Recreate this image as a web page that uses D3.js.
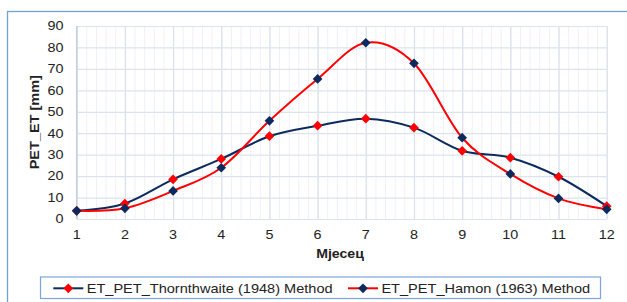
<!DOCTYPE html>
<html>
<head>
<meta charset="utf-8">
<script src="https://cdn.jsdelivr.net/npm/d3@7"></script>
<style>
  body { margin: 0; background: #fff; }
  svg { display: block; font-family: "Liberation Sans", Arial, sans-serif; }
</style>
</head>
<body>
<div class="svg-container"></div>
<script>
// chart data
const months = [1, 2, 3, 4, 5, 6, 7, 8, 9, 10, 11, 12];
const thornthwaite = [3.8, 7.2, 18.5, 28, 38.6, 43.5, 46.8, 42.6, 31.8, 28.6, 19.7, 6];
const hamon = [3.8, 5, 13.1, 23.9, 45.8, 65.3, 82.2, 72.6, 37.9, 21, 9.6, 4.5];
const yTicks = [0, 10, 20, 30, 40, 50, 60, 70, 80, 90];
const seriesNames = ["ET_PET_Thornthwaite (1948) Method", "ET_PET_Hamon (1963) Method"];

function load_contents(){
  const width = 627, height = 302;
  const navy = "#0c2a5e", red = "#ff0000";
  const stretch = 1.2; // picture text looks a bit wide

  let svg = d3.select(".svg-container")
    .append("svg")
    .attr("width", width)
    .attr("height", height);

  // outer chart frame
  svg.append("rect")
    .attr("x", 7.5).attr("y", 11.5)
    .attr("width", 640).attr("height", 320)
    .attr("fill", "none")
    .attr("stroke", "#6fa0d8")
    .attr("stroke-width", 1.3);

  let xScale = d3.scaleLinear().domain([1, 12]).range([76.7, 606.7]);
  let yScale = d3.scaleLinear().domain([0, 90]).range([219, 26]);

  let g_grid = svg.append("g");
  // minor verticals
  g_grid.append("g")
    .attr("transform", "translate(0,219)")
    .call(d3.axisBottom(xScale).tickValues(d3.range(1, 12.01, 0.2)).tickSize(-193).tickFormat(""))
    .call(g => g.select(".domain").remove())
    .selectAll("line").attr("stroke", "#eef1f7");
  // major verticals
  g_grid.append("g")
    .attr("transform", "translate(0,219)")
    .call(d3.axisBottom(xScale).tickValues(months).tickSize(-193).tickFormat(""))
    .call(g => g.select(".domain").remove())
    .selectAll("line").attr("stroke", "#d9e0ec").attr("stroke-width", 1.2);
  // horizontals
  g_grid.append("g")
    .attr("transform", "translate(76.7,0)")
    .call(d3.axisLeft(yScale).tickValues(yTicks).tickSize(-530).tickFormat(""))
    .call(g => g.select(".domain").remove())
    .selectAll("line").attr("stroke", "#dde3ee").attr("stroke-width", 1.2);

  // left axis line
  svg.append("line")
    .attr("x1", 76.7).attr("x2", 76.7).attr("y1", 26).attr("y2", 219)
    .attr("stroke", "#c5d0e0").attr("stroke-width", 1.5);

  // tick labels (drawn by hand so they can be stretched)
  svg.append("g").selectAll("g")
    .data(yTicks)
    .enter().append("g")
    .attr("transform", d => "translate(63.5," + (yScale(d) + 4.3) + ")")
    .append("text")
    .attr("transform", "scale(" + stretch + ",1)")
    .attr("text-anchor", "end")
    .attr("font-size", "12px").attr("fill", "#222")
    .text(d => d);

  svg.append("g").selectAll("g")
    .data(months)
    .enter().append("g")
    .attr("transform", d => "translate(" + xScale(d) + ",238.5)")
    .append("text")
    .attr("transform", "scale(" + stretch + ",1)")
    .attr("text-anchor", "middle")
    .attr("font-size", "12px").attr("fill", "#222")
    .text(d => d);

  // axis titles
  svg.append("text")
    .attr("transform", "translate(39.3,122.2) rotate(-90) scale(1.18,1)")
    .attr("text-anchor", "middle")
    .attr("font-size", "12.3px").attr("font-weight", "bold").attr("fill", "#222")
    .text("PET_ET [mm]");
  svg.append("text")
    .attr("transform", "translate(340,258.3) scale(1.13,1)")
    .attr("text-anchor", "middle")
    .attr("font-size", "12.5px").attr("font-weight", "bold").attr("fill", "#222")
    .text("Мјесец");

  const line = d3.line()
    .x((d, i) => xScale(months[i]))
    .y(d => yScale(d))
    .curve(d3.curveCatmullRom.alpha(0));

  const diamond = d3.symbol().type(d3.symbolDiamond2).size(60);

  const series = [
    {name: seriesNames[0], values: thornthwaite, lineColor: navy, markColor: red},
    {name: seriesNames[1], values: hamon, lineColor: red, markColor: navy}
  ];

  series.forEach(s => {
    svg.append("path")
      .attr("d", line(s.values))
      .attr("fill", "none")
      .attr("stroke", s.lineColor)
      .attr("stroke-width", 2);
  });
  series.forEach(s => {
    svg.append("g").selectAll("path")
      .data(s.values)
      .enter().append("path")
      .attr("d", diamond)
      .attr("transform", (d, i) => "translate(" + xScale(months[i]) + "," + yScale(d) + ")")
      .attr("fill", s.markColor);
  });

  // legend
  svg.append("rect")
    .attr("x", 40.5).attr("y", 277)
    .attr("width", 560).attr("height", 21.5)
    .attr("fill", "#fff")
    .attr("stroke", "#7aa7dd").attr("stroke-width", 1.2);

  const legendX = [53.3, 348];
  series.forEach((s, i) => {
    let lg = svg.append("g").attr("transform", "translate(" + legendX[i] + ",288.3)");
    lg.append("line").attr("x1", 0).attr("x2", 30)
      .attr("stroke", s.lineColor).attr("stroke-width", 2);
    lg.append("path").attr("d", diamond).attr("transform", "translate(15,0)")
      .attr("fill", s.markColor);
    lg.append("text").attr("transform", "translate(33.4,4.6) scale(1.12,1)")
      .attr("font-size", "13px").attr("fill", "#222")
      .text(s.name);
  });
}

load_contents();
</script>
</body>
</html>
